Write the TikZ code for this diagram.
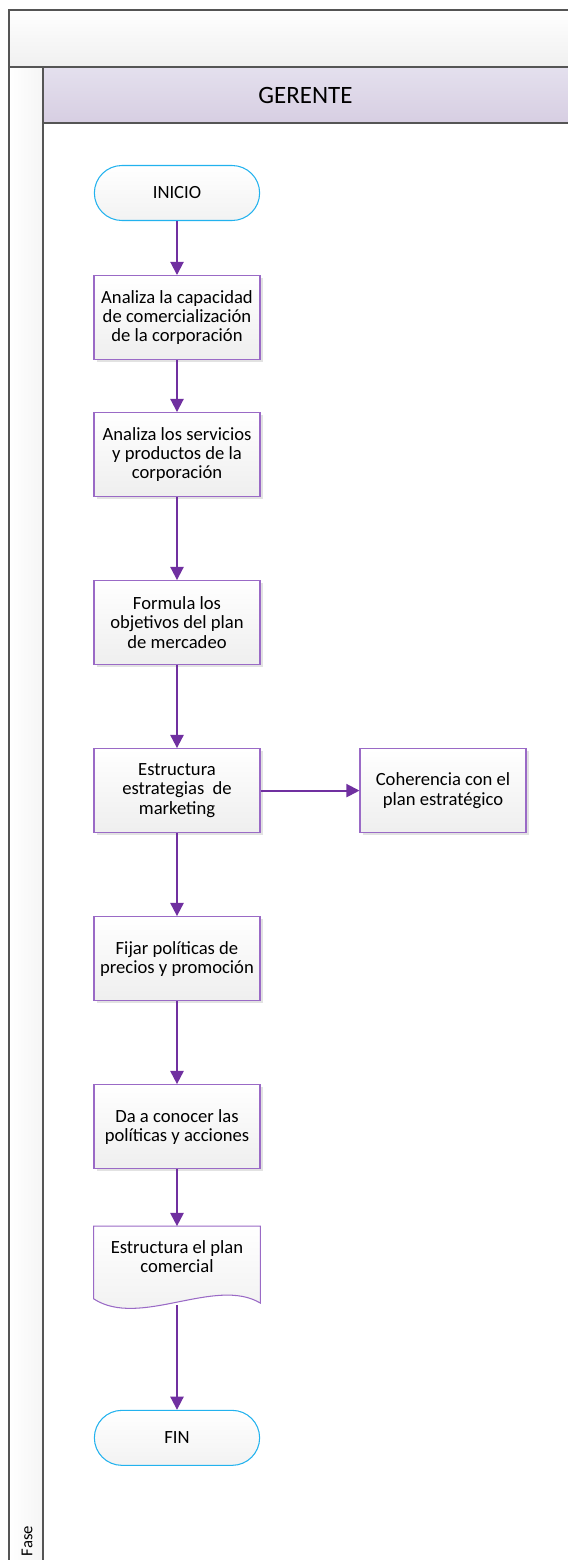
\documentclass[tikz,border=0pt]{standalone}
\usepackage{fontspec}
\setmainfont{Carlito}
\usetikzlibrary{positioning,shapes.misc,arrows.meta,shadows,backgrounds}

\definecolor{lila}{HTML}{7030A0}
\definecolor{lilaborde}{HTML}{9A6AC6}
\definecolor{celeste}{HTML}{22B2EE}
\definecolor{marco}{HTML}{555555}
\definecolor{lavanda1}{HTML}{E4E0EE}
\definecolor{lavanda2}{HTML}{D7CEE2}

\tikzset{
    caja/.style={rectangle, minimum width=3.32cm, minimum height=1.68cm, align=center,
        font=\fontsize{10.6}{10.9}\selectfont},
    proceso/.style={caja, draw=lilaborde, line width=0.6pt, top color=white, bottom color=gray!13,
        drop shadow={shadow xshift=1.6pt, shadow yshift=-1.6pt, fill=gray!45, opacity=0.5}},
    terminal/.style={rounded rectangle, draw=celeste, line width=0.6pt, top color=white,
        bottom color=gray!10, minimum width=3.54cm, minimum height=1.1cm,
        font=\fontsize{10.6}{10.9}\selectfont},
    flecha/.style={-{Triangle[length=7.5pt,width=7.5pt]}, draw=lila, line width=1.1pt}
}

\begin{document}
\begin{tikzpicture}[x=0.02cm, y=-0.02cm]

\useasboundingbox (0,0) rectangle (568,1560);

% marco del carril
\fill[top color=white, bottom color=gray!12] (9,10) rectangle (568,67);
\fill[top color=lavanda1, bottom color=lavanda2] (43,67) rectangle (568,123);
\fill[left color=white, right color=gray!8] (9,67) rectangle (43,1560);
\draw[marco, line width=0.8pt] (568,10) -- (9,10) -- (9,1560);
\draw[marco, line width=0.8pt] (9,67) -- (568,67);
\draw[marco, line width=0.8pt] (43,67) -- (43,1560);
\draw[marco, line width=0.8pt] (43,123) -- (568,123);
\node[font=\fontsize{14.2}{16}\selectfont] (gerente) at (305.5,95) {GERENTE};
\node[rotate=90, font=\fontsize{9.5}{10}\selectfont] (fase) at (27,1541) {Fase};

% flujo
\node[terminal] (inicio) at (177,193) {INICIO};
\node[proceso] (capacidad) [below=1.08cm of inicio] {Analiza la capacidad\\de comercialización\\de la corporación};
\node[proceso] (servicios) [below=1.04cm of capacidad] {Analiza los servicios\\y productos de la\\corporación};
\node[proceso] (objetivos) [below=1.66cm of servicios] {Formula los\\objetivos del plan\\de mercadeo};
\node[proceso] (estrategias) [below=1.66cm of objetivos] {Estructura\\estrategias\ \ de\\marketing};
\node[proceso] (coherencia) [right=1.98cm of estrategias] {Coherencia con el\\plan estratégico};
\node[proceso] (politicas) [below=1.66cm of estrategias] {Fijar políticas de\\precios y promoción};
\node[proceso] (acciones) [below=1.66cm of politicas] {Da a conocer las\\políticas y acciones};
\node[caja, minimum height=1.44cm] (plan) [below=1.14cm of acciones] {Estructura el plan\\comercial\\[-4pt]};
\node[terminal] (fin) [below=2.22cm of plan] {FIN};

\begin{scope}[on background layer]
\fill[gray!45, opacity=0.5, xshift=1.6pt, yshift=-1.6pt] (plan.north west) -- (plan.north east)
    -- ([yshift=-2.4pt]plan.south east) .. controls +(-45,-27) and +(46,30) .. (plan.south west) -- cycle;
\draw[lilaborde, line width=0.6pt, top color=white, bottom color=gray!13] (plan.north west) -- (plan.north east)
    -- ([yshift=-2.4pt]plan.south east) .. controls +(-45,-27) and +(46,30) .. (plan.south west) -- cycle;
\end{scope}

\draw[flecha] (inicio) -- (capacidad);
\draw[flecha] (capacidad) -- (servicios);
\draw[flecha] (servicios) -- (objetivos);
\draw[flecha] (objetivos) -- (estrategias);
\draw[flecha] (estrategias) -- (coherencia);
\draw[flecha] (estrategias) -- (politicas);
\draw[flecha] (politicas) -- (acciones);
\draw[flecha] (acciones) -- (plan);
\draw[flecha] ([yshift=-3.5pt]plan.south) -- (fin);

\end{tikzpicture}
\end{document}
